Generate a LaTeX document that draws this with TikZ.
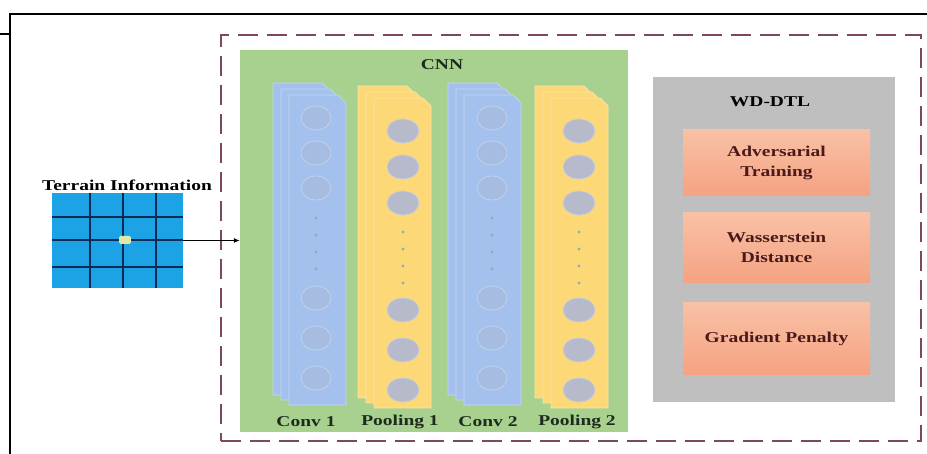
\documentclass[tikz,border=0pt]{standalone}
\usepackage{fontspec}
\setmainfont{Liberation Serif}
\newfontfamily\labfont[FakeStretch=1.3]{Liberation Serif}
\usetikzlibrary{arrows.meta,shapes.geometric}

\definecolor{framec}{HTML}{7B4A56}
\definecolor{cnngreen}{HTML}{A8D08E}
\definecolor{convblue}{HTML}{A3C1EC}
\definecolor{convedge}{HTML}{C3D6F2}
\definecolor{poolyellow}{HTML}{FDD877}
\definecolor{pooledge}{HTML}{FCE6A8}
\definecolor{convcell}{HTML}{A6BCE0}
\definecolor{convcelledge}{HTML}{C0D1EC}
\definecolor{poolcell}{HTML}{B7BACB}
\definecolor{poolcelledge}{HTML}{CDCFD8}
\definecolor{dotc}{HTML}{97A6C2}
\definecolor{wdgrey}{HTML}{BFBFBF}
\definecolor{salmontop}{HTML}{F9C1A6}
\definecolor{salmonbot}{HTML}{F5A282}
\definecolor{terrainblue}{HTML}{1BA3E6}
\definecolor{gridline}{HTML}{0B2A55}
\definecolor{probe}{HTML}{DDE9A6}
\definecolor{cnntext}{HTML}{1C2B1C}
\definecolor{wdtext}{HTML}{4A1A1A}

% one stack of three sheets with a folded top-right corner
% #1 back-left x, #2 back top y, #3 back bottom y, #4 fill, #5 edge
\newcommand\layerstack[5]{%
  \foreach \k in {0,1,2}{
    \filldraw[fill=#4, draw=#5, line width=0.7pt]
      ({#1+8*\k},{#2+6*\k}) -- ({#1+8*\k+49},{#2+6*\k})
      -- ({#1+8*\k+57},{#2+6*\k+8}) -- ({#1+8*\k+57},{#3+5*\k})
      -- ({#1+8*\k},{#3+5*\k}) -- cycle;
  }}

\begin{document}
\begin{tikzpicture}[x=1pt,y=-1pt,
  lab/.style={font=\labfont\bfseries\fontsize{15}{20}\selectfont, inner sep=0pt},
  ccell/.style={ellipse, fill=convcell, draw=convcelledge, line width=0.8pt,
    minimum width=30pt, minimum height=24pt, inner sep=0pt},
  pcell/.style={ellipse, fill=poolcell, draw=poolcelledge, line width=0.8pt,
    minimum width=32pt, minimum height=24pt, inner sep=0pt},
  orangebox/.style={rectangle, top color=salmontop, bottom color=salmonbot,
    minimum width=187pt, align=center, text=wdtext,
    font=\labfont\bfseries\fontsize{15}{20}\selectfont},
]
\useasboundingbox (0,0) rectangle (927,454);
\fill[white] (0,0) rectangle (927,454);

% page frame lines
\draw[line width=2pt] (0,34) -- (10,34);
\draw[line width=2pt] (10,454) -- (10,14) -- (927,14);

% dashed enclosure
\node[draw=framec, line width=2pt, dash pattern=on 20pt off 9pt,
  minimum width=700pt, minimum height=406pt, inner sep=0pt] (frame) at (571,238) {};

% CNN panel
\node[fill=cnngreen, minimum width=388pt, minimum height=382pt, inner sep=0pt]
  (cnn) at (434,241) {};
\node[lab, text=cnntext] (cnnlab) at (442,65) {CNN};

% layer stacks
\layerstack{273}{83}{395}{convblue}{convedge}
\layerstack{358}{86}{398}{poolyellow}{pooledge}
\layerstack{448}{83}{395}{convblue}{convedge}
\layerstack{535}{86}{398}{poolyellow}{pooledge}

% neurons of the convolution layers
\foreach \cx/\nm in {316/ca, 492/cb}{
  \foreach \cy [count=\i] in {118,153,188,298,338,378}
    \node[ccell] (\nm\i) at (\cx,\cy) {};
  \foreach \dy in {218,235,252,269}
    \fill[dotc] (\cx,\dy) circle (1.7pt);
}
% neurons of the pooling layers
\foreach \cx/\nm in {403/pa, 579/pb}{
  \foreach \cy [count=\i] in {131,167,203,310,350,390}
    \node[pcell] (\nm\i) at (\cx,\cy) {};
  \foreach \dy in {232,249,266,283}
    \fill[dotc] (\cx,\dy) circle (1.7pt);
}

% layer names
\node[lab, text=cnntext] (l1) at (306,422) {Conv 1};
\node[lab, text=cnntext] (l2) at (400,422) {Pooling 1};
\node[lab, text=cnntext] (l3) at (488,422) {Conv 2};
\node[lab, text=cnntext] (l4) at (577,422) {Pooling 2};

% WD-DTL panel
\node[fill=wdgrey, minimum width=242pt, minimum height=325pt, inner sep=0pt]
  (wd) at (774,239.5) {};
\node[lab] (wdlab) at (770,102) {WD-DTL};
\node[orangebox, minimum height=66pt] (adv) at (776.5,162.5) {Adversarial\\Training};
\node[orangebox, minimum height=70pt] (wass) at (776.5,247.5) {Wasserstein\\Distance};
\node[orangebox, minimum height=72pt] (gp) at (776.5,338.5) {Gradient Penalty};

% terrain grid
\node[fill=terrainblue, minimum width=131pt, minimum height=95pt, inner sep=0pt]
  (terrain) at (117.5,240.5) {};
\foreach \gx in {90,123,156}
  \draw[gridline, line width=1.2pt] (\gx,193) -- (\gx,288);
\foreach \gy in {217,240,267}
  \draw[gridline, line width=1.2pt] (52,\gy) -- (183,\gy);
\node[fill=probe, rounded corners=1.5pt, minimum width=12pt, minimum height=8pt,
  inner sep=0pt] (probe) at (125,240) {};
\node[lab] (terrlab) at (127,185) {Terrain Information};

% input arrow
\draw[line width=1pt, -{Latex[length=6pt,width=5pt]}]
  (terrain.east) -- (terrain.east -| cnn.west);
\end{tikzpicture}
\end{document}
